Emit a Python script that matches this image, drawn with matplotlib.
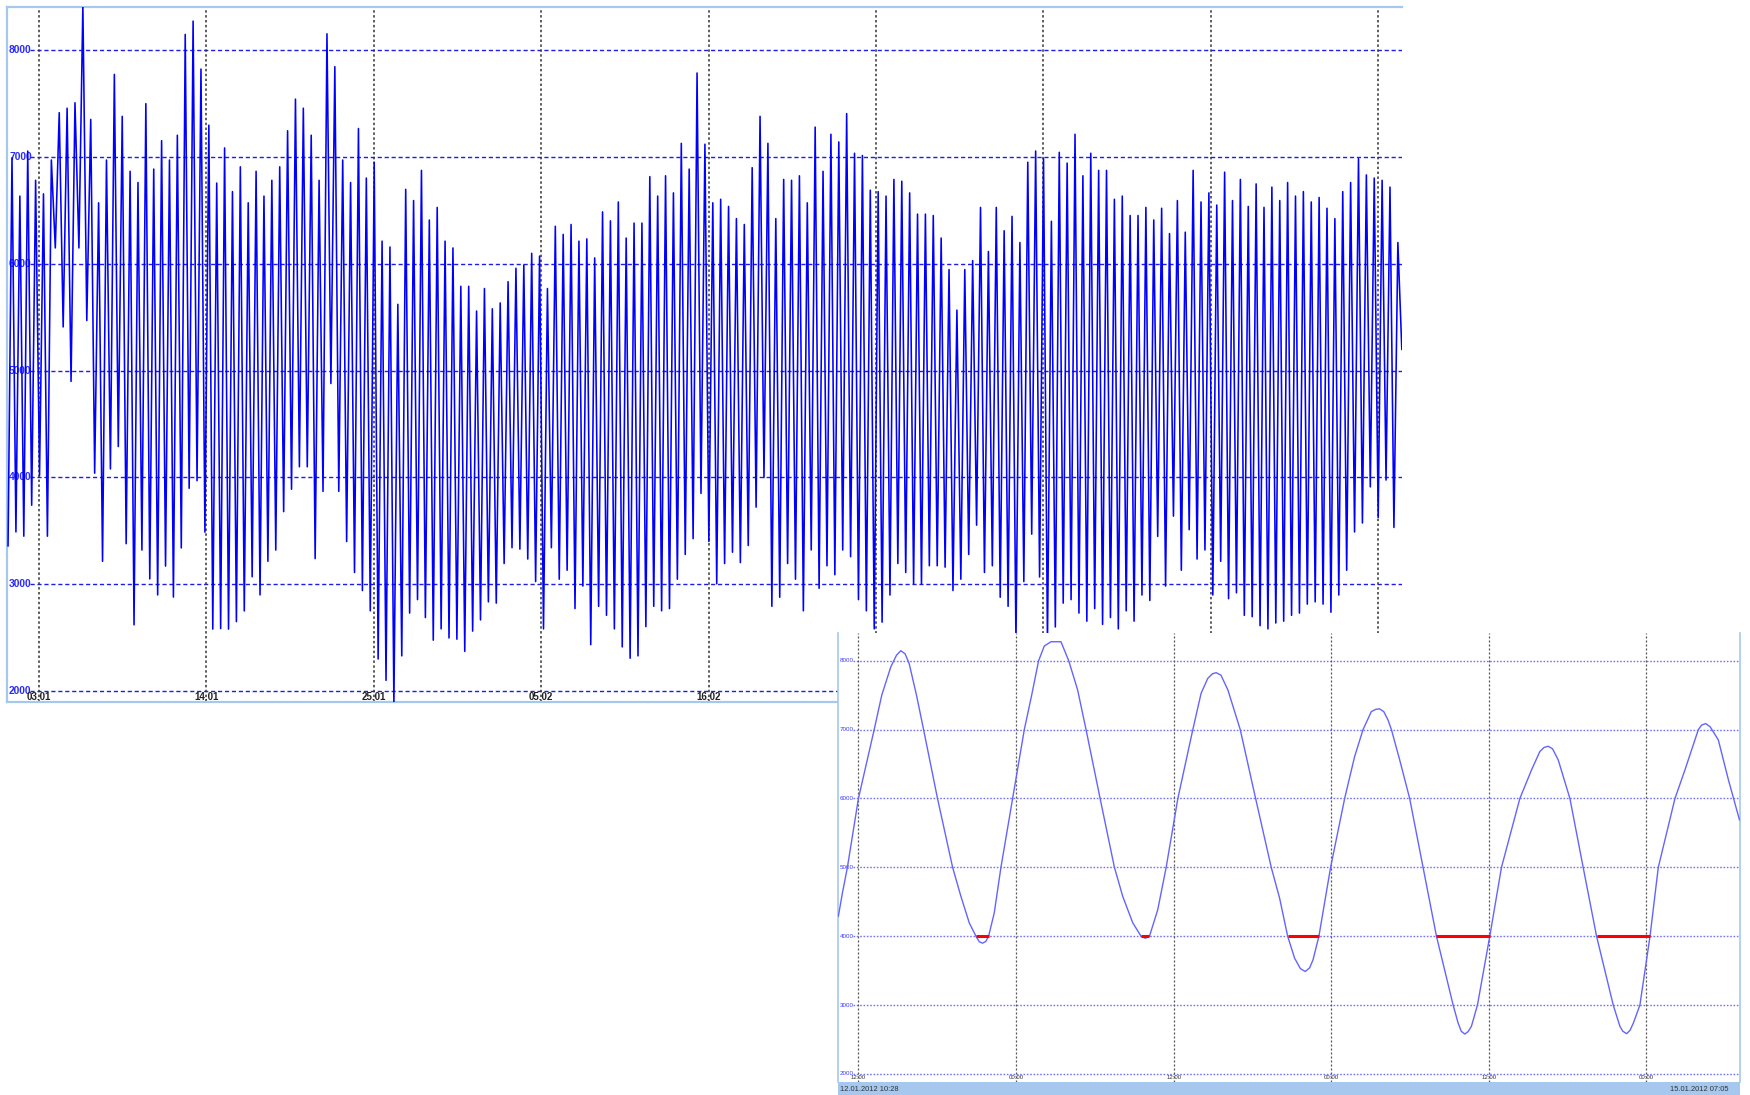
import numpy as np
import matplotlib
matplotlib.use("Agg")
import matplotlib.pyplot as plt
from matplotlib.patches import Rectangle
import matplotlib.transforms as mtransforms

W, H = 1750, 1095

# ---------------- main chart data (day coordinate: Jan d -> d) ----------------
first_peak_day = 1.225
tide_period_days = 0.5175
high_water = [
    6995, 6636, 7058, 6784, 6657, 6974, 7417, 7459, 7510, 8420,
    7354, 6573, 6974, 7776, 7383, 6868, 6763, 7502, 6889, 7155,
    6974, 7206, 8150, 8275, 7826, 7300, 6758, 7087, 6678, 6910,
    6573, 6868, 6636, 6784, 6910, 7248, 7544, 7459, 7206, 6784,
    8156, 7848, 6974, 6763, 7269,
    6805, 6953, 6214, 6159, 5622, 6699, 6594, 6877, 6412, 6530,
    6214, 6150, 5791, 5791, 5559, 5770, 5580, 5635, 5834, 5960,
    5990, 6100, 6074, 5770, 6353, 6277, 6370, 6214, 6235, 6057,
    6488, 6404, 6581, 6243, 6383, 6383, 6818, 6636, 6826, 6666,
    7130, 6889, 7789, 7122,
    6573, 6606, 6539, 6425, 6370, 6902, 7383, 7130, 6425, 6792,
    6784, 6826, 6573, 7282, 6868, 7215, 7143, 7409, 7037, 7016,
    6691, 6678, 6636, 6792, 6775, 6666, 6467, 6467, 6454, 6243,
    5948, 5568, 5948, 6032, 6530, 6117, 6530, 6311, 6446, 6201,
    6953, 7058, 6986, 6400,
    7046, 6945, 7215, 6826, 7037, 6877, 6877, 6606, 6636, 6454,
    6454, 6530, 6412, 6522, 6285, 6594, 6298, 6877, 6581, 6666,
    6552, 6860, 6594, 6792, 6539, 6750, 6530, 6720, 6594, 6763,
    6636, 6678, 6581, 6623, 6522, 6425, 6678, 6763, 6986, 6834,
    6805, 6784, 6720, 6201,
]
low_water = [
    3360, 3490, 3450, 3740, 4020, 3450, 6150, 5410, 4900, 6150,
    5470, 4040, 3215, 4080, 4290, 3380, 2620, 3320, 3050, 2900,
    3170, 2880, 3340, 3899, 3970, 3488, 2580, 2585, 2580, 2650,
    2750, 3070, 2900, 3215, 3320, 3680, 3890, 4100, 4100, 3240,
    3870, 4880, 3870, 3400, 3110,
    2941, 2751, 2300, 2100, 1880, 2329, 2730, 2856, 2688, 2476,
    2582, 2497, 2485, 2371, 2561, 2666, 2835, 2823, 3194, 3342,
    3329, 3236, 3025, 2582, 3342, 3047, 3131, 2772, 2983, 2434,
    2793, 2709, 2582, 2413, 2307, 2329, 2603, 2793, 2751, 2772,
    3047, 3279, 3427, 3851,
    3400,
    3004, 3194, 3300, 3203, 3363, 3722, 4000, 2793, 2878, 3194,
    3047, 2751, 3321, 2962, 3173, 3089, 3321, 3258, 2856, 2751,
    2582, 2645, 2899, 3194, 3110, 3004, 3004, 3173, 3173, 3160,
    2941, 3047, 3279, 3553, 3110, 3173, 2878, 2793, 2450, 3025,
    3469, 3068, 2450,
    2600,
    2823, 2856, 2730, 2654, 2772, 2624, 2688, 2582, 2751, 2654,
    2899, 2848, 3448, 2983, 3638, 3131, 3511, 3236, 3321, 2899,
    3215, 2865, 2920, 2709, 2696, 2612, 2582, 2637, 2654, 2709,
    2730, 2814, 2835, 2814, 2738, 2899, 3131, 3490, 3574, 3912,
    3625, 3976, 3532,
    5200,
]
date_ticks = [3, 14, 25, 36, 47, 58, 69, 80, 91]
date_labels = ["03.01", "14.01", "25.01", "05.02", "16.02",
               "27.02", "09.03", "20.03", "31.03"]
level_ticks = [2000, 3000, 4000, 5000, 6000, 7000, 8000]

# ---------------- inset (zoomed) data: hours since 12.01.2012 00:00 ----------------
inset_hours = [
    10.47, 10.78, 11.16, 12.00, 13.20, 13.78, 14.47, 14.90, 15.23, 15.55,
    15.86, 16.42, 16.96, 18.02, 19.17, 19.80, 20.44, 20.95, 21.20, 21.45,
    21.70, 21.91, 22.34, 22.85, 23.74, 24.63, 25.19, 25.72, 26.15, 26.66,
    27.42, 28.01, 28.69, 29.33, 30.40, 31.49, 32.12, 32.89, 33.52, 33.85,
    34.16, 34.79, 35.43, 36.32, 37.46, 38.09, 38.60, 38.95, 39.24, 39.60,
    40.13, 41.07, 42.24, 43.43, 44.07, 44.68, 45.21, 45.65, 46.02, 46.35,
    46.61, 47.06, 47.95, 49.02, 49.78, 50.42, 51.05, 51.40, 51.69, 52.00,
    52.32, 52.58, 53.21, 53.97, 54.99, 56.01, 57.28, 57.66, 57.90, 58.17,
    58.42, 58.67, 59.13, 60.07, 60.96, 62.36, 63.25, 63.88, 64.20, 64.52,
    64.85, 65.28, 66.17, 67.18, 68.20, 69.47, 69.98, 70.20, 70.49, 70.75,
    71.00, 71.50, 72.27, 72.90, 74.17, 74.93, 75.95, 76.20, 76.51, 76.85,
    77.47, 78.24, 79.08,
]
inset_values = [
    4290, 4628, 5000, 6000, 7000, 7503, 7913, 8080, 8145, 8100,
    7961, 7500, 7000, 6000, 5000, 4580, 4193, 4000, 3920, 3899,
    3925, 4000, 4338, 5000, 6000, 7000, 7500, 8000, 8213, 8275,
    8275, 8000, 7575, 7000, 6000, 5000, 4580, 4193, 4000, 3970,
    4000, 4386, 5000, 6000, 7000, 7527, 7744, 7810, 7826, 7790,
    7575, 7000, 6000, 5000, 4550, 4000, 3681, 3530, 3488, 3540,
    3657, 4000, 5000, 6000, 6609, 7000, 7261, 7295, 7300, 7260,
    7140, 7000, 6560, 6000, 5000, 4000, 3000, 2739, 2620, 2580,
    2615, 2691, 3000, 4000, 5000, 6000, 6415, 6681, 6740, 6758,
    6720, 6560, 6000, 5000, 4000, 3000, 2691, 2620, 2585, 2635,
    2739, 3000, 4000, 5000, 6000, 6415, 7000, 7065, 7087, 7040,
    6850, 6270, 5690,
]
inset_threshold = 4000
inset_ticks = [12, 24, 36, 48, 60, 72]
inset_tick_labels = ["12:00", "00:00", "12:00", "00:00", "12:00", "00:00"]
inset_start_label = "12.01.2012 10:28"
inset_end_label = "15.01.2012 07:05"

# ---------------- helpers ----------------
def rect(l, t, r, b):
    return [l / W, 1 - b / H, (r - l) / W, (b - t) / H]

BORDER = "#a6c8ee"
FONT = "Liberation Sans"

fig = plt.figure(figsize=(W / 100, H / 100), dpi=100)
fig.patch.set_facecolor("white")

# ---------------- main chart ----------------
ax = fig.add_axes(rect(7.3, 7, 1401.7, 702))
ax.set_zorder(1)
hw = np.array(high_water, dtype=float)
lw_ = np.array(low_water, dtype=float)
peak_t = first_peak_day + tide_period_days * np.arange(len(hw))
half = tide_period_days / 2
trough_t = np.append(peak_t - half, peak_t[-1] + half)
t = np.empty(len(hw) + len(lw_))
v = np.empty_like(t)
t[0::2] = trough_t
t[1::2] = peak_t
v[0::2] = lw_
v[1::2] = hw

ax.set_xlim(0.917, 92.557)
ax.set_ylim(1897, 8407)
for y in level_ticks:
    ax.axhline(y, xmin=0.0163, xmax=1, color="#1c1cf0", lw=1.0,
               linestyle=(0, (3, 2)), zorder=1)
for d in date_ticks:
    ax.axvline(d, color="#333333", lw=1.1, linestyle=(0, (1.6, 1.6)), zorder=1)
ax.plot(t, v, color="#0000ff", lw=1.15, zorder=3)

ax.set_xticks([])
ax.set_yticks([])
for s in ["top", "left", "bottom"]:
    ax.spines[s].set_color(BORDER)
    ax.spines[s].set_linewidth(1.6)
ax.spines["right"].set_visible(False)

tr_y = mtransforms.blended_transform_factory(ax.transAxes, ax.transData)
for y in level_ticks:
    ax.text((9 - 7.3) / 1394.4, y, str(y), transform=tr_y, ha="left",
            va="center", color="#2a2aff", fontsize=7.4, fontweight="bold",
            family=FONT, zorder=2)
tr_x = mtransforms.blended_transform_factory(ax.transData, ax.transAxes)
for d, lab in zip(date_ticks, date_labels):
    ax.text(d, 0.0075, lab, transform=tr_x, ha="center", va="center",
            color="#222222", fontsize=7.0, fontweight="bold", family=FONT,
            zorder=4)

# ---------------- inset chart ----------------
ia = fig.add_axes(rect(838.3, 633, 1739.5, 1081.5))
ia.set_zorder(5)
ia.set_facecolor("white")
ia.set_xlim(10.467, 79.083)
ia.set_ylim(1891, 8402)
for y in level_ticks:
    ia.axhline(y, xmin=0.016, xmax=1, color="#7474ff", lw=1.0,
               linestyle=(0, (1.2, 1.2)), zorder=1)
for h in inset_ticks:
    ia.axvline(h, color="#555555", lw=0.9, linestyle=(0, (1.6, 1.6)), zorder=1)

ih = np.array(inset_hours, dtype=float)
iv = np.array(inset_values, dtype=float)
ia.plot(ih, iv, color="#6464ff", lw=1.0, zorder=3)
red = np.where(iv <= inset_threshold, inset_threshold, np.nan)
ia.plot(ih, red, color="#ff0000", lw=2.2, zorder=4, solid_capstyle="butt")

ia.set_xticks([])
ia.set_yticks([])
for s in ["top", "bottom"]:
    ia.spines[s].set_visible(False)
for s in ["left", "right"]:
    ia.spines[s].set_color(BORDER)
    ia.spines[s].set_linewidth(1.2)

itr_y = mtransforms.blended_transform_factory(ia.transAxes, ia.transData)
for y in level_ticks:
    ia.text(0.0015, y, str(y), transform=itr_y, ha="left", va="center",
            color="#3a3aff", fontsize=4.5, family=FONT, zorder=2)
itr_x = mtransforms.blended_transform_factory(ia.transData, ia.transAxes)
for h, lab in zip(inset_ticks, inset_tick_labels):
    ia.text(h, 0.008, lab, transform=itr_x, ha="center", va="center",
            color="#333333", fontsize=4.3, family=FONT, zorder=2)

# bottom status bar of the inset
bar = Rectangle((838 / W, 0), (1740 - 838) / W, 13 / H, transform=fig.transFigure,
                facecolor="#a6c8ee", edgecolor="none", zorder=6)
fig.add_artist(bar)
fig.text(839.5 / W, 1 - 1089.5 / H, inset_start_label, ha="left", va="center",
         color="#333333", fontsize=5.4, family=FONT, zorder=7)
fig.text(1729 / W, 1 - 1089.5 / H, inset_end_label, ha="right", va="center",
         color="#333333", fontsize=5.4, family=FONT, zorder=7)

fig.savefig("out.png", dpi=100)
